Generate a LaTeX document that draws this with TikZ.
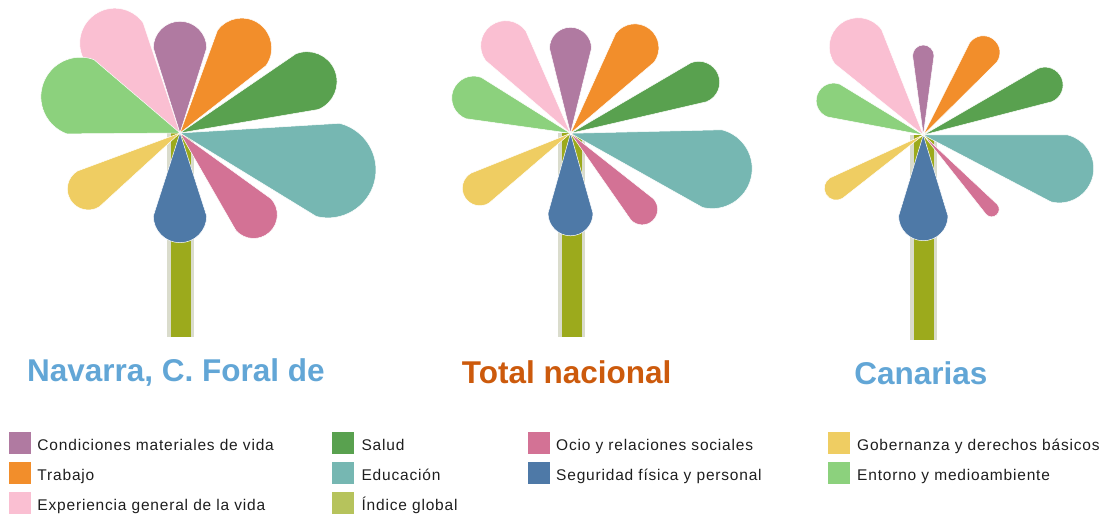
\documentclass[tikz,border=0pt]{standalone}
\usepackage{fontspec}
\setmainfont{Liberation Sans}
\newfontfamily\legfont[LetterSpace=5.2]{Liberation Sans}
\usetikzlibrary{calc}
\definecolor{cPur}{HTML}{B07AA1}
\definecolor{cOra}{HTML}{F28E2B}
\definecolor{cDgr}{HTML}{59A14F}
\definecolor{cTea}{HTML}{76B7B2}
\definecolor{cOci}{HTML}{D37295}
\definecolor{cBlu}{HTML}{4E79A7}
\definecolor{cYel}{HTML}{EFCD62}
\definecolor{cLgr}{HTML}{8CD17D}
\definecolor{cPnk}{HTML}{FABFD2}
\definecolor{cIdx}{HTML}{B6C35C}
\definecolor{cStem}{HTML}{9CAA1C}
\definecolor{cStemL}{HTML}{DADCCC}
\definecolor{cTitB}{HTML}{62A6D6}
\definecolor{cTitO}{HTML}{CC5A0C}
\definecolor{cTxt}{HTML}{1E1E1E}
% petal: cx, cy, angle, distance, radius, colour
\newcommand\flpetal[6]{%
  \filldraw[fill=#6,draw=white,line width=0.5pt] (#1,#2) --
    ($(#1,#2)+(#3:#4)+({#3+90}:#5)$)
    arc[start angle={#3+90}, end angle={#3-90}, radius=#5] -- cycle;}
% stem: left, top, right, (unused), bottom
\newcommand\flstem[5]{%
  \fill[cStemL] (#1,#2) rectangle (#3,#5);
  \fill[cStem] ({#1+4},#2) rectangle ({#3-3},#5);}
\tikzset{
  swatch/.style={minimum size=22pt,inner sep=0pt,outer sep=0pt},
  legtxt/.style={anchor=base west,inner sep=0pt,text=cTxt,font=\legfont\fontsize{15.5}{18}\selectfont},
  title/.style={anchor=base,inner sep=0pt,font=\bfseries\fontsize{31.5}{36}\selectfont}
}
\begin{document}
\begin{tikzpicture}[x=1pt,y=-1pt]
\useasboundingbox (0,0) rectangle (1104,516);
% ---------- Navarra
\flstem{167}{133}{194}{0}{337}
\flpetal{180}{133}{-126}{111}{35}{cPnk}
\flpetal{180}{133}{-160}{106}{39.5}{cLgr}
\flpetal{180}{133}{-90}{85}{26.7}{cPur}
\flpetal{180}{133}{-54}{105}{30}{cOra}
\flpetal{180}{133}{-22}{137}{30}{cDgr}
\flpetal{180}{133}{14}{152.5}{48}{cTea}
\flpetal{180}{133}{48}{110}{23.7}{cOci}
\flpetal{180}{133}{148.6}{107.4}{21}{cYel}
\flpetal{180}{133}{90}{83}{26.7}{cBlu}
% ---------- Total nacional
\flstem{557.5}{133}{585}{0}{337}
\flpetal{570.5}{133.3}{-126.5}{109}{25}{cPnk}
\flpetal{570.5}{133.3}{-160}{103}{22}{cLgr}
\flpetal{570.5}{133.3}{-90}{85}{21}{cPur}
\flpetal{570.5}{133.3}{-53}{107}{24}{cOra}
\flpetal{570.5}{133.3}{-21.7}{138}{21}{cDgr}
\flpetal{570.5}{133.3}{14}{146}{40}{cTea}
\flpetal{570.5}{133.3}{46.7}{104.5}{15.5}{cOci}
\flpetal{570.5}{133.3}{148.8}{106}{17.5}{cYel}
\flpetal{570.5}{133.3}{90}{80}{22.5}{cBlu}
% ---------- Canarias
\flstem{910}{135}{936.7}{0}{340}
\flpetal{923.3}{135}{-126.4}{109.7}{29}{cPnk}
\flpetal{923.3}{135}{-159}{96}{17.5}{cLgr}
\flpetal{923.3}{135}{-90}{79.3}{10.7}{cPur}
\flpetal{923.3}{135}{-54}{102}{16.7}{cOra}
\flpetal{923.3}{135}{-22.3}{131.6}{18}{cDgr}
\flpetal{923.3}{135}{13.8}{140}{34.5}{cTea}
\flpetal{923.3}{135}{47.4}{101}{7.5}{cOci}
\flpetal{923.3}{135}{148.6}{102}{12}{cYel}
\flpetal{923.3}{135}{90}{81}{24.7}{cBlu}
% ---------- titles
\node[title,text=cTitB] (tNav) at (175.9,381.7) {Navarra, C. Foral de};
\node[title,text=cTitO] (tTot) at (566.7,383.3) {Total nacional};
\node[title,text=cTitB] (tCan) at (920.8,384.3) {Canarias};
% ---------- legend
\node[swatch,fill=cPur] (s1) at (19.7,442.7) {};
\node[legtxt] (l1) at (37.3,450) {Condiciones materiales de vida};
\node[swatch,fill=cOra] (s2) at (19.7,472.7) {};
\node[legtxt] (l2) at (37.3,480) {Trabajo};
\node[swatch,fill=cPnk] (s3) at (19.7,502.7) {};
\node[legtxt] (l3) at (37.3,510) {Experiencia general de la vida};
\node[swatch,fill=cDgr] (s4) at (342.6,442.7) {};
\node[legtxt] (l4) at (361.4,450) {Salud};
\node[swatch,fill=cTea] (s5) at (342.6,472.7) {};
\node[legtxt] (l5) at (361.4,480) {Educación};
\node[swatch,fill=cIdx] (s6) at (342.6,502.7) {};
\node[legtxt] (l6) at (361.4,510) {Índice global};
\node[swatch,fill=cOci] (s7) at (538.6,442.7) {};
\node[legtxt] (l7) at (556,450) {Ocio y relaciones sociales};
\node[swatch,fill=cBlu] (s8) at (538.6,472.7) {};
\node[legtxt] (l8) at (556,480) {Seguridad física y personal};
\node[swatch,fill=cYel] (s9) at (838.5,442.7) {};
\node[legtxt] (l9) at (857,450) {Gobernanza y derechos básicos};
\node[swatch,fill=cLgr] (s10) at (838.5,472.7) {};
\node[legtxt] (l10) at (857,480) {Entorno y medioambiente};
\end{tikzpicture}
\end{document}
